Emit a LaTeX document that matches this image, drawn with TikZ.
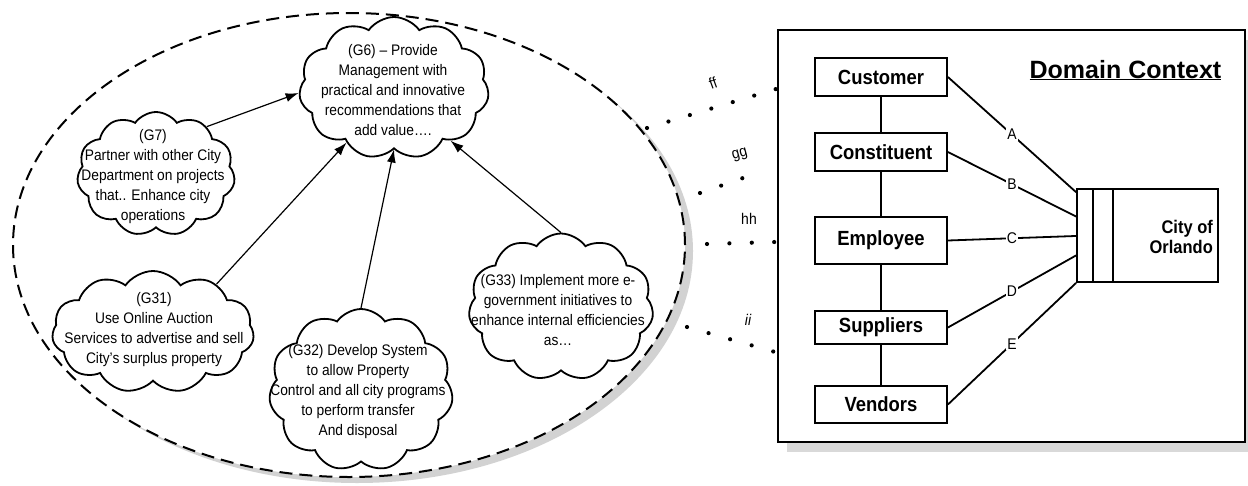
\documentclass[tikz,border=0pt]{standalone}
\usepackage{fontspec}
\setmainfont{Liberation Sans}
\newfontfamily\bodyfont[FakeStretch=0.9]{Liberation Sans}
\newfontfamily\titlefont{Liberation Sans}
\usetikzlibrary{shapes.symbols,shapes.geometric,arrows.meta,calc,shadows}
\begin{document}
\begin{tikzpicture}[x=1pt,y=-1pt,
  cloudnode/.style={cloud, draw, line width=1.8pt, cloud puffs=11, cloud puff arc=110, cloud ignores aspect, inner sep=0pt, fill=white},
  goaltext/.style={font={\bodyfont\fontsize{15.3}{20}\selectfont}, align=center, inner sep=0pt},
  arr/.style={line width=1.2pt, -{Latex[length=13pt,width=9pt]}},
  entity/.style={draw, line width=1.8pt, minimum width=132pt, inner sep=0pt, fill=white, font={\bodyfont\bfseries\fontsize{20.5}{24}\selectfont}},
  link/.style={line width=1.8pt},
  linklabel/.style={fill=white, inner sep=1pt, font={\bodyfont\fontsize{15.5}{18}\selectfont}},
  dotline/.style={line width=4.2pt, line cap=round, dash pattern=on 0pt off 22.4pt},
  dotlabel/.style={inner sep=0pt, font={\bodyfont\fontsize{15.5}{18}\selectfont}}
]
\useasboundingbox (0,0) rectangle (1248,485);

% goal scope
\node[ellipse, draw, dash pattern=on 13pt off 7pt, line width=2pt, minimum width=672pt, minimum height=464pt, inner sep=0pt, fill=white,
  drop shadow={shadow xshift=8pt, shadow yshift=-6pt, fill=gray!35, opacity=1}] (scope) at (349,245) {};

% clouds
\node[cloudnode, minimum width=190pt, minimum height=142pt] (g6) at (394,88) {};
\node[cloudnode, minimum width=158pt, minimum height=124pt] (g7) at (156,174) {};
\node[cloudnode, minimum width=202pt, minimum height=122pt] (g31) at (153,332) {};
\node[cloudnode, minimum width=184pt, minimum height=162pt] (g32) at (361,390) {};
\node[cloudnode, minimum width=185pt, minimum height=147pt] (g33) at (561,307) {};

\node[goaltext] (g6t) at (393,90) {(G6) – Provide\\Management with\\practical and innovative\\recommendations that\\add value….};
\node[goaltext] (g7t) at (153,177) {(G7)\\Partner with other City\\Department on projects\\that.. Enhance city\\operations};
\node[goaltext] (g31t) at (154,330) {(G31)\\Use Online Auction\\Services to advertise and sell\\City’s surplus property};
\node[goaltext] (g32t) at (358,392) {(G32) Develop System\\to allow Property\\Control and all city programs\\to perform transfer\\And disposal};
\node[goaltext] (g33t) at (558,310) {(G33) Implement more e-\\government initiatives to\\enhance internal efficiencies\\as…};

\draw[arr] (g7.43) -- (g6.183);
\draw[arr] (g31.37) -- (g6.229);
\draw[arr] (g32.north) -- (g6.270);
\draw[arr] (g33.north) -- (g6.317);

% domain context
\node[draw, line width=2pt, minimum width=467pt, minimum height=412pt, inner sep=0pt, fill=white,
  drop shadow={shadow xshift=9pt, shadow yshift=-10pt, fill=gray!30, opacity=1}] (dom) at (1011.5,236) {};
\node[font={\titlefont\bfseries\fontsize{25}{30}\selectfont}, anchor=base, inner sep=0pt] (title) at (1125.5,78) {\underline{Domain Context}};

\node[entity, minimum height=38pt] (cust) at (881,77) {Customer};
\node[entity, minimum height=38pt] (cons) at (881,152) {Constituent};
\node[entity, minimum height=47pt] (emp) at (881,240.5) {Employee};
\node[entity, minimum height=33pt] (sup) at (881,327.5) {Suppliers};
\node[entity, minimum height=37pt] (ven) at (881,404.5) {Vendors};

\draw[link] (cust) -- (cons);
\draw[link] (cons) -- (emp);
\draw[link] (emp) -- (sup);
\draw[link] (sup) -- (ven);

\node[draw, line width=1.8pt, minimum width=141pt, minimum height=93pt, inner sep=0pt] (city) at (1147.5,235.5) {};
\draw[link] ($(city.north west)+(17,0)$) -- ($(city.south west)+(17,0)$);
\draw[link] ($(city.north west)+(37,0)$) -- ($(city.south west)+(37,0)$);
\node[font={\bodyfont\bfseries\fontsize{18.3}{20}\selectfont}, align=right, anchor=east, inner sep=0pt] (citytext) at (1213,237) {City of\\Orlando};

\draw[link] (cust.east) -- node[linklabel] {A} ($(city.north west)!0.043!(city.south west)$);
\draw[link] (cons.east) -- node[linklabel] {B} ($(city.north west)!0.30!(city.south west)$);
\draw[link] (emp.east) -- node[linklabel] {C} ($(city.north west)!0.505!(city.south west)$);
\draw[link] (sup.east) -- node[linklabel] {D} ($(city.north west)!0.71!(city.south west)$);
\draw[link] (ven.east) -- node[linklabel] {E} (city.south west);

% dotted links
\coordinate (ffa) at (647,128); \coordinate (ffb) at (776,89);
\coordinate (gga) at (700,193); \coordinate (ggb) at (763,171);
\coordinate (hha) at (707,244); \coordinate (hhb) at (775,242);
\coordinate (iia) at (687,327); \coordinate (iib) at (775,352);
\draw[dotline] (ffa) -- (ffb);
\draw[dotline] (gga) -- (ggb);
\draw[dotline] (hha) -- (hhb);
\draw[dotline] (iia) -- (iib);
\node[dotlabel, rotate=20] (ff) at (713,83) {ff};
\node[dotlabel, rotate=15] (gg) at (740,155) {gg};
\node[dotlabel] (hh) at (749,219) {hh};
\node[dotlabel] (ii) at (748,320) {\itshape ii};
\end{tikzpicture}
\end{document}
